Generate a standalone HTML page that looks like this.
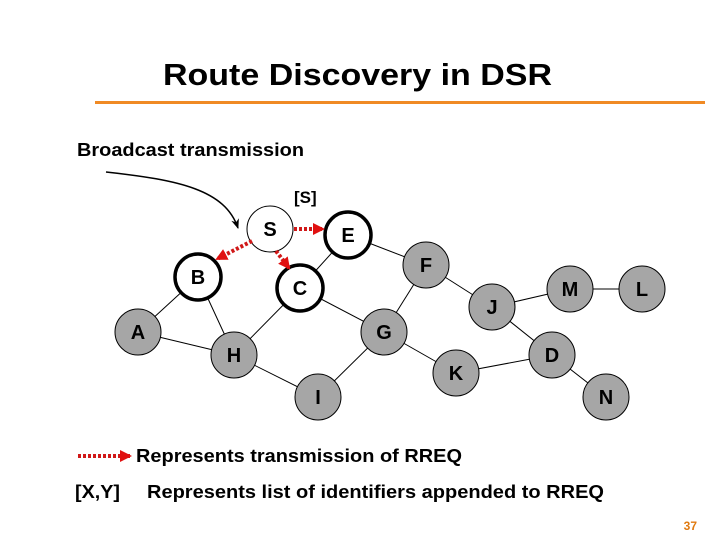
<!DOCTYPE html>
<html><head><style>
body{margin:0;background:#fff;}
svg{display:block}
text{font-family:"Liberation Sans",Arial,sans-serif;font-weight:bold;}
</style></head><body>
<svg width="720" height="540" viewBox="0 0 720 540" xmlns="http://www.w3.org/2000/svg">
<defs>
<marker id="ar2" markerWidth="12" markerHeight="12" refX="10" refY="6" orient="auto" markerUnits="userSpaceOnUse"><path d="M0,0 L12,6 L0,12z" fill="#e01010"/></marker>
<marker id="bk" markerWidth="10" markerHeight="10" refX="9" refY="5" orient="auto" markerUnits="userSpaceOnUse"><path d="M0,1 L10,5 L0,9 L3,5z" fill="#000"/></marker>
</defs>
<text x="163" y="85" font-size="31" textLength="389" lengthAdjust="spacingAndGlyphs">Route Discovery in DSR</text>
<rect x="95" y="101" width="610" height="3" fill="#f08a24"/>
<text x="77" y="156" font-size="18" textLength="227" lengthAdjust="spacingAndGlyphs">Broadcast transmission</text>
<text x="294" y="203" font-size="17">[S]</text>
<path d="M106,172 C180,180 225,190 238,228" fill="none" stroke="#000" stroke-width="1.5" marker-end="url(#bk)"/>
<g stroke="#000" stroke-width="1">
<line x1="138" y1="332" x2="198" y2="277"/><line x1="138" y1="332" x2="234" y2="355"/>
<line x1="198" y1="277" x2="234" y2="355"/><line x1="234" y1="355" x2="300" y2="288"/>
<line x1="300" y1="288" x2="348" y2="235"/><line x1="300" y1="288" x2="384" y2="332"/>
<line x1="348" y1="235" x2="426" y2="265"/><line x1="426" y1="265" x2="384" y2="332"/>
<line x1="426" y1="265" x2="492" y2="307"/><line x1="234" y1="355" x2="318" y2="397"/>
<line x1="318" y1="397" x2="384" y2="332"/><line x1="384" y1="332" x2="456" y2="373"/>
<line x1="456" y1="373" x2="552" y2="355"/><line x1="492" y1="307" x2="570" y2="289"/>
<line x1="492" y1="307" x2="552" y2="355"/><line x1="570" y1="289" x2="642" y2="289"/>
<line x1="552" y1="355" x2="606" y2="397"/>
</g>
<g stroke="#000" stroke-width="1" fill="#a6a6a6">
<circle cx="426" cy="265" r="23"/><circle cx="138" cy="332" r="23"/><circle cx="234" cy="355" r="23"/>
<circle cx="384" cy="332" r="23"/><circle cx="318" cy="397" r="23"/><circle cx="456" cy="373" r="23"/>
<circle cx="492" cy="307" r="23"/><circle cx="570" cy="289" r="23"/><circle cx="642" cy="289" r="23"/>
<circle cx="552" cy="355" r="23"/><circle cx="606" cy="397" r="23"/>
</g>
<circle cx="270" cy="229" r="23" fill="#fff" stroke="#000" stroke-width="1"/>
<g fill="#fff" stroke="#000" stroke-width="3.5">
<circle cx="348" cy="235" r="23"/><circle cx="198" cy="277" r="23"/><circle cx="300" cy="288" r="23"/>
</g>
<g stroke="#d01818" stroke-width="4" stroke-dasharray="3,2" fill="none">
<line x1="294" y1="229" x2="323" y2="229" marker-end="url(#ar2)"/>
<line x1="252" y1="241" x2="217" y2="259" marker-end="url(#ar2)"/>
<line x1="276" y1="251" x2="289" y2="268" marker-end="url(#ar2)"/>
</g>
<g font-size="20" text-anchor="middle">
<text x="270" y="236">S</text><text x="348" y="242">E</text><text x="198" y="284">B</text>
<text x="300" y="295">C</text><text x="426" y="272">F</text><text x="138" y="339">A</text>
<text x="234" y="362">H</text><text x="384" y="339">G</text><text x="318" y="404">I</text>
<text x="456" y="380">K</text><text x="492" y="314">J</text><text x="570" y="296">M</text>
<text x="642" y="296">L</text><text x="552" y="362">D</text><text x="606" y="404">N</text>
</g>
<line x1="78" y1="456" x2="130" y2="456" stroke="#d01818" stroke-width="4" stroke-dasharray="3,2" marker-end="url(#ar2)"/>
<text x="136" y="462" font-size="18" textLength="326" lengthAdjust="spacingAndGlyphs">Represents transmission of RREQ</text>
<text x="75" y="498" font-size="18" textLength="45" lengthAdjust="spacingAndGlyphs">[X,Y]</text>
<text x="147" y="498" font-size="18" textLength="457" lengthAdjust="spacingAndGlyphs">Represents list of identifiers appended to RREQ</text>
<text x="697" y="530" font-size="12" fill="#e07a10" text-anchor="end">37</text>
</svg>
</body></html>
